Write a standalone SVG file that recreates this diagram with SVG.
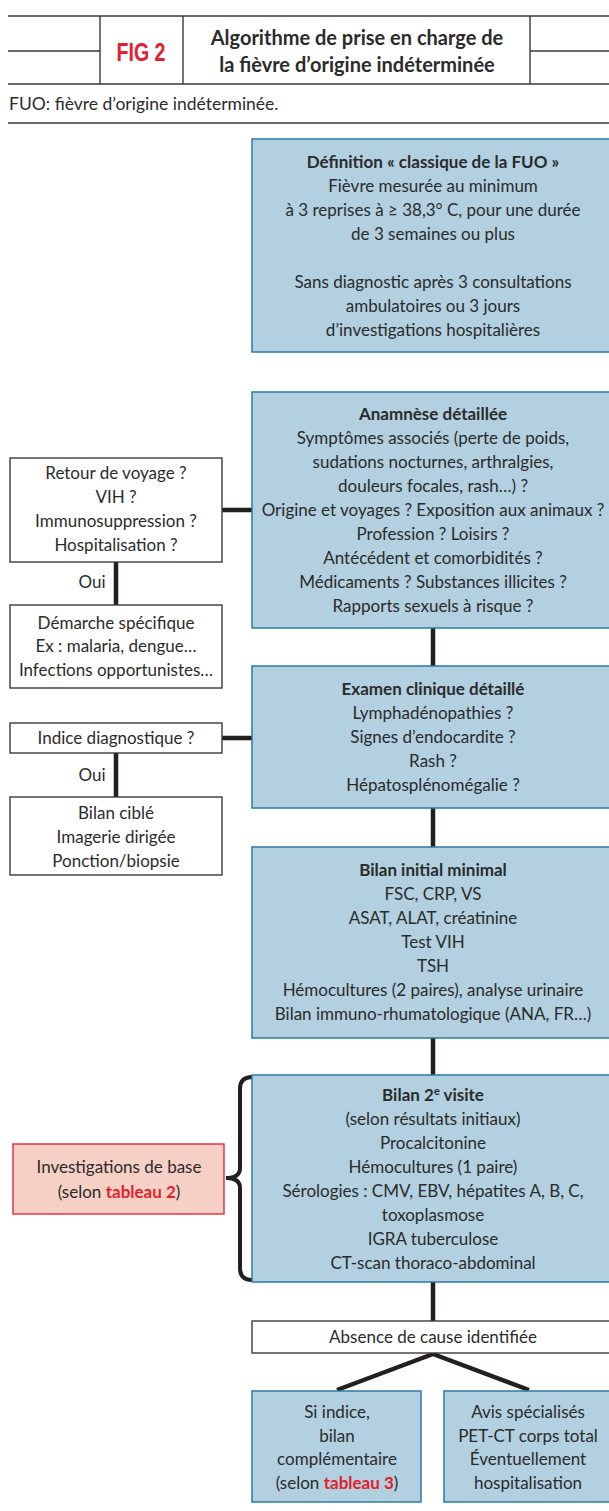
<svg xmlns="http://www.w3.org/2000/svg" width="609" height="1511" viewBox="0 0 609 1511">
<style>
text{font-family:Lato,"Open Sans","Liberation Sans",sans-serif;font-size:17px;fill:#2b2b2b;text-anchor:middle}
.b{font-weight:bold}
.red{fill:#e3202f;font-weight:bold}
.blue{fill:#b2d0df;stroke:#2f7aa3;stroke-width:1.5}
.white{fill:#fff;stroke:#3a3a3a;stroke-width:1.4}
.pink{fill:#f6d0c5;stroke:#e3283a;stroke-width:1.4}
.hl{stroke:#3a3a3a;stroke-width:1.4;fill:none}
.con{stroke:#231f20;stroke-width:4.5;fill:none}
</style>
<rect width="609" height="1511" fill="#fff"/>
<g id="header">
<path class="hl" d="M8,16H609M8,84H609M8,123H609M8,51H100M530,51H609M100,16V84M183,16V84M530,16V84"/>
<text x="141" y="61" class="red" style="font-family:'Liberation Sans',Arial,sans-serif;font-size:26px" textLength="49" lengthAdjust="spacingAndGlyphs">FIG 2</text>
<text x="357" y="45" class="b" style="font-size:20px">Algorithme de prise en charge de</text>
<text x="357" y="72" class="b" style="font-size:20px">la fièvre d’origine indéterminée</text>
<text x="9" y="110" style="text-anchor:start;font-size:17.5px">FUO: fièvre d’origine indéterminée.</text>
</g>
<g id="connectors">
<path class="con" d="M222,510H252M116,562V605M222,738H252M116,753V797M433,628V666M433,808V847M433,1038V1075M433,1282V1321M433,1354L337,1390M433,1354L529,1390"/>
<path d="M252,1077Q240,1077 240,1089V1168Q240,1178 226,1178Q240,1178 240,1188V1268Q240,1280 252,1280" stroke="#231f20" stroke-width="4" fill="none"/>
</g>
<g id="definition">
<rect class="blue" x="252" y="139" width="362" height="213"/>
<text x="433" y="168" class="b">Définition « classique de la FUO »</text>
<text x="433" y="192">Fièvre mesurée au minimum</text>
<text x="433" y="216">à 3 reprises à ≥ 38,3° C, pour une durée</text>
<text x="433" y="240">de 3 semaines ou plus</text>
<text x="433" y="288">Sans diagnostic après 3 consultations</text>
<text x="433" y="312">ambulatoires ou 3 jours</text>
<text x="433" y="336">d’investigations hospitalières</text>
</g>
<g id="anamnese">
<rect class="blue" x="252" y="392" width="362" height="236"/>
<text x="433" y="420" class="b">Anamnèse détaillée</text>
<text x="433" y="444">Symptômes associés (perte de poids,</text>
<text x="433" y="468">sudations nocturnes, arthralgies,</text>
<text x="433" y="492">douleurs focales, rash…) ?</text>
<text x="433" y="516">Origine et voyages ? Exposition aux animaux ?</text>
<text x="433" y="540">Profession ? Loisirs ?</text>
<text x="433" y="564">Antécédent et comorbidités ?</text>
<text x="433" y="588">Médicaments ? Substances illicites ?</text>
<text x="433" y="612">Rapports sexuels à risque ?</text>
</g>
<g id="retour">
<rect class="white" x="10" y="458" width="212" height="104"/>
<text x="116" y="479">Retour de voyage ?</text>
<text x="116" y="503">VIH ?</text>
<text x="116" y="527">Immunosuppression ?</text>
<text x="116" y="551">Hospitalisation ?</text>
</g>
<g id="oui1"><text x="92" y="588">Oui</text></g>
<g id="demarche">
<rect class="white" x="10" y="605" width="212" height="83"/>
<text x="116" y="629">Démarche spécifique</text>
<text x="116" y="652">Ex : malaria, dengue…</text>
<text x="116" y="676">Infections opportunistes…</text>
</g>
<g id="examen">
<rect class="blue" x="252" y="666" width="362" height="142"/>
<text x="433" y="695" class="b">Examen clinique détaillé</text>
<text x="433" y="719">Lymphadénopathies ?</text>
<text x="433" y="743">Signes d’endocardite ?</text>
<text x="433" y="767">Rash ?</text>
<text x="433" y="791">Hépatosplénomégalie ?</text>
</g>
<g id="indice">
<rect class="white" x="10" y="723" width="212" height="30"/>
<text x="116" y="744">Indice diagnostique ?</text>
</g>
<g id="oui2"><text x="92" y="781">Oui</text></g>
<g id="bilancible">
<rect class="white" x="10" y="797" width="212" height="78"/>
<text x="116" y="819">Bilan ciblé</text>
<text x="116" y="843">Imagerie dirigée</text>
<text x="116" y="867">Ponction/biopsie</text>
</g>
<g id="bilaninitial">
<rect class="blue" x="252" y="847" width="362" height="191"/>
<text x="433" y="876" class="b">Bilan initial minimal</text>
<text x="433" y="900">FSC, CRP, VS</text>
<text x="433" y="924">ASAT, ALAT, créatinine</text>
<text x="433" y="948">Test VIH</text>
<text x="433" y="972">TSH</text>
<text x="433" y="996">Hémocultures (2 paires), analyse urinaire</text>
<text x="433" y="1020">Bilan immuno-rhumatologique (ANA, FR…)</text>
</g>
<g id="bilan2">
<rect class="blue" x="252" y="1075" width="362" height="207"/>
<text x="433" y="1101" class="b">Bilan 2<tspan dy="-6" style="font-size:11px">e</tspan><tspan dy="6"> visite</tspan></text>
<text x="433" y="1125">(selon résultats initiaux)</text>
<text x="433" y="1149">Procalcitonine</text>
<text x="433" y="1173">Hémocultures (1 paire)</text>
<text x="433" y="1197">Sérologies : CMV, EBV, hépatites A, B, C,</text>
<text x="433" y="1221">toxoplasmose</text>
<text x="433" y="1245">IGRA tuberculose</text>
<text x="433" y="1269">CT-scan thoraco-abdominal</text>
</g>
<g id="investigations">
<rect class="pink" x="13" y="1144" width="211" height="70"/>
<text x="119" y="1173">Investigations de base</text>
<text x="119" y="1198">(selon <tspan class="red">tableau 2</tspan>)</text>
</g>
<g id="absence">
<rect class="white" x="252" y="1321" width="362" height="32"/>
<text x="433" y="1343">Absence de cause identifiée</text>
</g>
<g id="siindice">
<rect class="blue" x="252" y="1391" width="169" height="111"/>
<text x="337" y="1418">Si indice,</text>
<text x="337" y="1442">bilan</text>
<text x="337" y="1465">complémentaire</text>
<text x="337" y="1489">(selon <tspan class="red">tableau 3</tspan>)</text>
</g>
<g id="avis">
<rect class="blue" x="444" y="1391" width="170" height="111"/>
<text x="528" y="1418">Avis spécialisés</text>
<text x="528" y="1442">PET-CT corps total</text>
<text x="528" y="1465">Éventuellement</text>
<text x="528" y="1489">hospitalisation</text>
</g>
</svg>
